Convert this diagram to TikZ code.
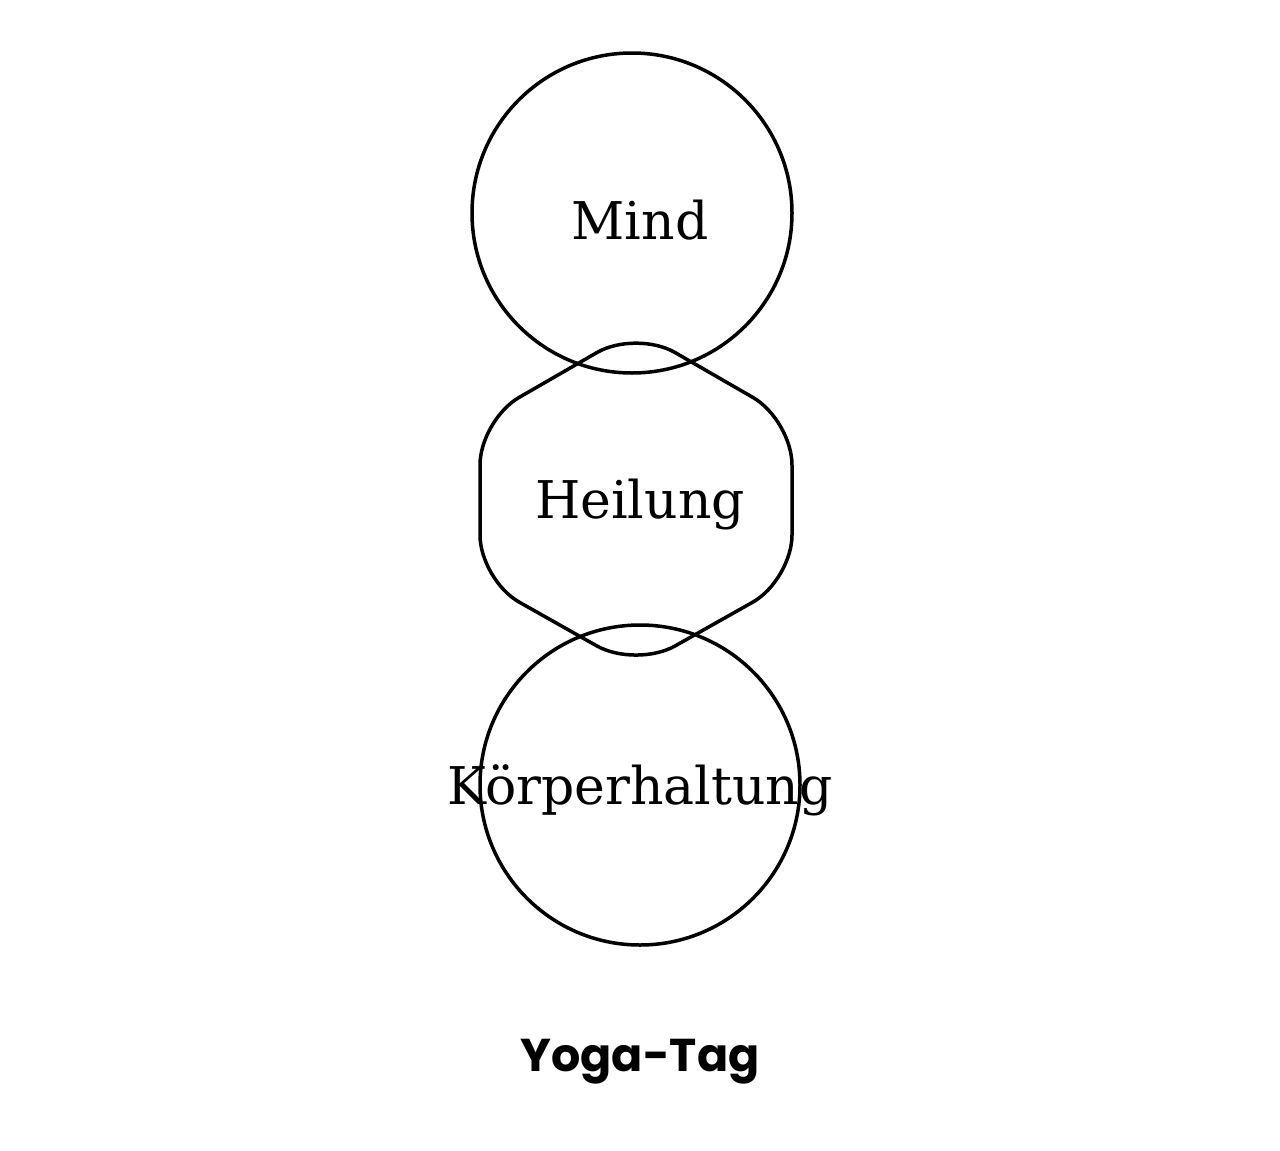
\documentclass[tikz,border=0pt]{standalone}
\usepackage{fontspec}
\setmainfont{DejaVu Serif}
\newfontfamily\titlefont{Poppins}
\begin{document}
\begin{tikzpicture}[x=1pt,y=-1pt,
  shp/.style={draw=black,line width=3.5pt},
  lbl/.style={font=\fontsize{52}{60}\selectfont},
  ttl/.style={font=\titlefont\bfseries\fontsize{46}{54}\selectfont}]
\useasboundingbox (0,0) rectangle (1280,1151);
\node[shp,circle,minimum size=320pt,inner sep=0pt] (mind) at (632,213) {};
\node[shp,circle,minimum size=320pt,inner sep=0pt] (koerper) at (640,785) {};
\draw[shp,rounded corners=45pt] (636,330) -- (792,420) -- (792,580) -- (636,668) -- (480,580) -- (480,420) -- cycle;
\coordinate (hex) at (636,500);
\node[lbl] (tm) at (640,220) {Mind};
\node[lbl] (th) at (640,505) {Heilung};
\node[lbl] (tk) at (640,790) {Körperhaltung};
\node[ttl] (tt) at (640,1062) {Yoga-Tag};
\end{tikzpicture}
\end{document}
